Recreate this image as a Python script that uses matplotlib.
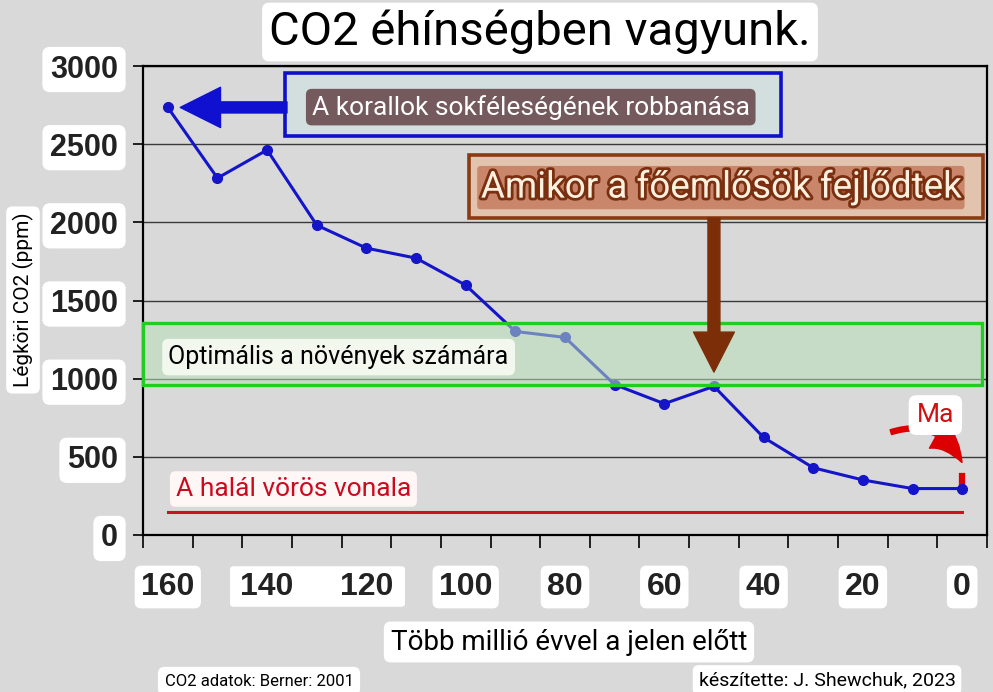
import matplotlib.pyplot as plt
import matplotlib.patheffects as pe
from matplotlib.patches import Rectangle, FancyBboxPatch, FancyArrowPatch
from matplotlib.transforms import blended_transform_factory

# -----------------------------------------------------------------------------
# Data (CO2, Berner 2001)
# -----------------------------------------------------------------------------
myr_ago = [160, 150, 140, 130, 120, 110, 100, 90, 80, 70, 60, 50, 40, 30, 20, 10, 0]
co2_ppm = [2735, 2283, 2463, 1982, 1835, 1771, 1598, 1302, 1264, 962, 840, 951,
           624, 430, 352, 297, 297]

y_ticks = [0, 500, 1000, 1500, 2000, 2500, 3000]
x_tick_marks = list(range(165, -6, -10))
x_labels = [160, 140, 120, 100, 80, 60, 40, 20, 0]

death_line_ppm = 150
optimal_low, optimal_high = 960, 1355
primates_myr = 50
today_myr = 0

BG = "#d9d9d9"
W, H = 993, 692


def fx(px):
    return px / W


def fy(py):
    return 1 - py / H


fig = plt.figure(figsize=(W / 100, H / 100), dpi=100, facecolor=BG)
plt.rcParams["font.family"] = ["Roboto", "DejaVu Sans"]

ax = fig.add_axes([fx(143), fy(535), fx(987) - fx(143), fy(66) - fy(535)])
ax.set_facecolor(BG)
ax.set_xlim(165, -5)
ax.set_ylim(0, 3000)

# frame, grid, ticks
for s in ax.spines.values():
    s.set_linewidth(1.6)
    s.set_color("black")
ax.set_yticks(y_ticks)
ax.grid(axis="y", color="#3a3a3a", linewidth=1.0)
ax.set_axisbelow(True)
ax.set_xticks(x_tick_marks)
ax.set_xticklabels([])
ax.tick_params(axis="x", length=9, width=1.2, direction="out")
ax.tick_params(axis="y", length=7, width=1.2, direction="out", pad=11)
ax.set_yticklabels([str(v) for v in y_ticks], fontsize=22, fontweight="bold",
                   family="Liberation Sans", color="#222222")
for lbl in ax.get_yticklabels():
    lbl.set_bbox(dict(boxstyle="round,pad=0.25", fc="white", ec="none"))

# main CO2 series
ax.plot(myr_ago, co2_ppm, color="#1414c8", linewidth=2.2, marker="o",
        markersize=7, zorder=2)

# optimal band for plants
ax.add_patch(Rectangle((-4, optimal_low), 169, optimal_high - optimal_low,
                       fc=(0.72, 0.88, 0.72, 0.55), ec="#22cc22", lw=2.4,
                       zorder=3, clip_on=False))
ax.text(125.6, 1138, "Optimális a növények számára", fontsize=18, color="black",
        ha="center", va="center", zorder=4,
        bbox=dict(boxstyle="round,pad=0.25", fc="#f2f8ee", ec="none"))

# red death line
ax.plot([myr_ago[0], today_myr], [death_line_ppm, death_line_ppm],
        color="#cc1122", linewidth=2.2, zorder=2)
ax.text(134.7, 294, "A halál vörös vonala", fontsize=19, color="#cc0a1e",
        ha="center", va="center", zorder=4,
        bbox=dict(boxstyle="round,pad=0.22", fc="#fff6f6", ec="none"))

# corals annotation
ax.add_patch(Rectangle((36.5, 2551), 99.8, 403, fc="#d3dede", ec="#1010c8",
                       lw=2.6, zorder=3))
ax.text(86.9, 2737, "A korallok sokféleségének robbanása", fontsize=19,
        color="white", ha="center", va="center", zorder=4,
        bbox=dict(boxstyle="round,pad=0.22", fc="#745a5c", ec="none"))
ax.annotate("", xy=(157.5, co2_ppm[0]), xytext=(136, co2_ppm[0]), zorder=4,
            arrowprops=dict(arrowstyle="simple,head_length=1.45,head_width=1.45,tail_width=0.4",
                            mutation_scale=20, color="#1010d0", shrinkA=0, shrinkB=0))

# primates annotation
ax.add_patch(Rectangle((-4.2, 2027), 103.6, 403, fc="#e2c4ae", ec="#8b3a12",
                       lw=2.6, zorder=3, clip_on=False))
ax.text(48.6, 2222, "Amikor a főemlősök fejlődtek", fontsize=26.5,
        color="#fff1e0", ha="center", va="center", zorder=4, fontweight="normal",
        path_effects=[pe.withStroke(linewidth=4, foreground="#7a3010")],
        bbox=dict(boxstyle="round,pad=0.1", fc="#c9866a", ec="none"))
ax.annotate("", xy=(primates_myr, 1042), xytext=(primates_myr, 2027), zorder=5,
            arrowprops=dict(arrowstyle="simple,head_length=1.44,head_width=1.47,tail_width=0.43",
                            mutation_scale=20, color="#7b2e08", shrinkA=0, shrinkB=0))

# "Ma" (today) annotation
ax.plot([today_myr, today_myr], [318, 380], color="#dd0000", linewidth=4.5, zorder=1.5)
ax.add_patch(FancyArrowPatch((14.9, 652), (-0.2, 448),
                             connectionstyle="arc3,rad=-0.45",
                             arrowstyle="simple,head_length=1.35,head_width=1.15,tail_width=0.18",
                             mutation_scale=20, color="#dd0000", zorder=4))
ax.text(5.4, 767, "Ma", fontsize=19, color="#d01010", ha="center", va="center",
        zorder=5, bbox=dict(boxstyle="round,pad=0.3", fc="white", ec="none"))

# x tick labels in white boxes
trans = blended_transform_factory(ax.transData, fig.transFigure)
shared_box = [140, 120]
ax.add_patch(FancyBboxPatch((fx(234), fy(604)), fx(401) - fx(234), fy(569) - fy(604),
                            boxstyle="round,pad=0.004", fc="white", ec="none",
                            transform=fig.transFigure, clip_on=False, zorder=1))
for v in x_labels:
    box = None if v in shared_box else dict(boxstyle="round,pad=0.2", fc="white", ec="none")
    ax.text(v, fy(587), str(v), transform=trans, ha="center", va="center",
            fontsize=23, fontweight="bold", family="Liberation Sans",
            color="#222222", bbox=box, clip_on=False, zorder=5)

# title and axis labels
fig.text(fx(540), fy(32), "CO2 éhínségben vagyunk.", fontsize=34, color="black",
         ha="center", va="center",
         bbox=dict(boxstyle="round,pad=0.15", fc="white", ec="none"))
fig.text(fx(23), fy(300), "Légköri CO2 (ppm)", fontsize=15, rotation=90,
         ha="center", va="center",
         bbox=dict(boxstyle="round,pad=0.3", fc="white", ec="none"))
fig.text(fx(569), fy(642), "Több millió évvel a jelen előtt", fontsize=20,
         ha="center", va="center",
         bbox=dict(boxstyle="round,pad=0.25", fc="white", ec="none"))
fig.text(fx(259), fy(681), "CO2 adatok: Berner: 2001", fontsize=12,
         ha="center", va="center",
         bbox=dict(boxstyle="round,pad=0.4", fc="white", ec="none"))
fig.text(fx(827), fy(680), "készítette: J. Shewchuk, 2023", fontsize=14,
         ha="center", va="center",
         bbox=dict(boxstyle="round,pad=0.3", fc="white", ec="none"))

fig.savefig("out.png", dpi=100, facecolor=BG)
